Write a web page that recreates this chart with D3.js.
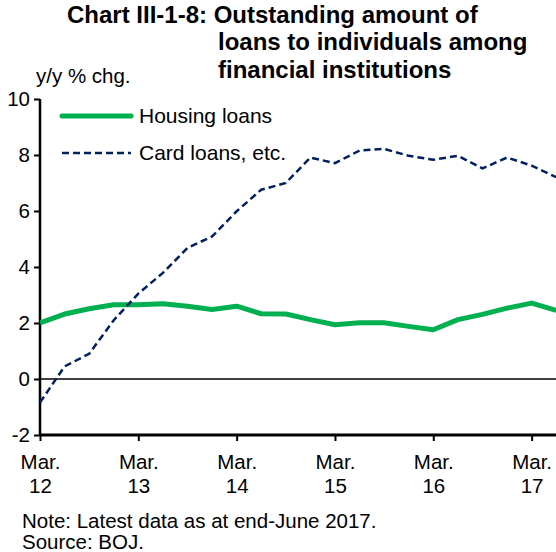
<!DOCTYPE html>
<html>
<head>
<meta charset="utf-8">
<script src="https://cdn.jsdelivr.net/npm/d3@7"></script>
<style>
  html, body { margin: 0; padding: 0; background: #fff; }
  svg { display: block; font-family: "Liberation Sans", Arial, sans-serif; }
</style>
</head>
<body>
<svg id="chart" width="556" height="552"></svg>
<script>
// ---- data (quarterly, Mar. 2012 – Jun. 2017), y/y % chg. ----
const quarters = ["2012Q1","2012Q2","2012Q3","2012Q4","2013Q1","2013Q2","2013Q3","2013Q4",
                  "2014Q1","2014Q2","2014Q3","2014Q4","2015Q1","2015Q2","2015Q3","2015Q4",
                  "2016Q1","2016Q2","2016Q3","2016Q4","2017Q1","2017Q2"];
const housingLoans = [2.00, 2.32, 2.51, 2.65, 2.65, 2.69, 2.60, 2.48, 2.60, 2.33, 2.32,
                      2.12, 1.94, 2.01, 2.01, 1.88, 1.76, 2.12, 2.31, 2.53, 2.71, 2.45];
const cardLoans = [-0.84, 0.45, 0.90, 2.10, 3.05, 3.79, 4.68, 5.09, 5.99, 6.76, 7.00,
                   7.91, 7.71, 8.16, 8.22, 7.97, 7.83, 7.97, 7.52, 7.91, 7.62, 7.21];
const xTickIndex = [0, 4, 8, 12, 16, 20];
const xTickLabels = [["Mar.","12"],["Mar.","13"],["Mar.","14"],["Mar.","15"],["Mar.","16"],["Mar.","17"]];
const yTicks = [-2, 0, 2, 4, 6, 8, 10];
const titleLines = ["Chart III-1-8: Outstanding amount of", "loans to individuals among", "financial institutions"];
const seriesNames = ["Housing loans", "Card loans, etc."];

(function () {
const svg = d3.select("#chart");
const pL = 40, pR = 556.2, pT = 99, pB = 435;
const fs = 20.5;

const x = d3.scaleLinear().domain([0, quarters.length - 1]).range([pL, pR]);
const y = d3.scaleLinear().domain([-2, 10]).range([pB, pT]);

// title
const title = svg.append("g").attr("font-weight", "bold").attr("font-size", 24).attr("fill", "#000");
title.append("text").attr("x", 67).attr("y", 22.5).text(titleLines[0]);
title.append("text").attr("x", 218).attr("y", 50).text(titleLines[1]);
title.append("text").attr("x", 218).attr("y", 77.5).text(titleLines[2]);

// unit label
svg.append("text").attr("x", 36).attr("y", 83).attr("font-size", fs).text("y/y % chg.");

// zero line
svg.append("line").attr("x1", pL).attr("x2", 556).attr("y1", y(0)).attr("y2", y(0))
  .attr("stroke", "#000").attr("stroke-width", 1.5);

// y axis
const yAxis = svg.append("g").attr("transform", `translate(${pL},0)`)
  .call(d3.axisLeft(y).tickValues(yTicks).tickSize(6).tickPadding(4).tickFormat(d => String(d)));
yAxis.select(".domain").attr("stroke-width", 2.5).attr("d", `M0,${pT}V${pB}`);
yAxis.selectAll(".tick line").attr("stroke-width", 2);
yAxis.selectAll(".tick text").attr("font-size", fs).attr("font-family", "Liberation Sans, Arial, sans-serif").attr("fill", "#000");

// x axis
const xAxis = svg.append("g").attr("transform", `translate(0,${pB})`)
  .call(d3.axisBottom(x).tickValues(xTickIndex).tickSize(6).tickFormat(""));
xAxis.select(".domain").attr("stroke-width", 3).attr("d", `M${pL},0H556`);
xAxis.selectAll(".tick line").attr("stroke-width", 2);
xAxis.selectAll(".tick").each(function(d, i) {
  const t = d3.select(this).append("text").attr("fill", "#000").attr("font-size", fs)
    .attr("text-anchor", "middle").attr("font-family", "Liberation Sans, Arial, sans-serif");
  t.append("tspan").attr("x", 0).attr("y", 34).text(xTickLabels[i][0]);
  t.append("tspan").attr("x", 0).attr("y", 58).text(xTickLabels[i][1]);
});

// clip to plot
svg.append("clipPath").attr("id", "plotclip").append("rect")
  .attr("x", pL).attr("y", 0).attr("width", 556 - pL).attr("height", pB);

const line = d3.line().x((d, i) => x(i)).y(d => y(d));
svg.append("path").datum(housingLoans).attr("clip-path", "url(#plotclip)")
  .attr("d", line).attr("fill", "none").attr("stroke", "#00B050").attr("stroke-width", 5)
  .attr("stroke-linejoin", "round");
svg.append("path").datum(cardLoans).attr("clip-path", "url(#plotclip)")
  .attr("d", line).attr("fill", "none").attr("stroke", "#002060").attr("stroke-width", 2.5)
  .attr("stroke-dasharray", "7,4");

// legend
const lg = svg.append("g");
lg.append("line").attr("x1", 62).attr("x2", 131).attr("y1", 116).attr("y2", 116)
  .attr("stroke", "#00B050").attr("stroke-width", 5).attr("stroke-linecap", "round");
lg.append("text").attr("x", 139).attr("y", 123).attr("font-size", 21).text(seriesNames[0]);
lg.append("line").attr("x1", 62).attr("x2", 131).attr("y1", 153).attr("y2", 153)
  .attr("stroke", "#002060").attr("stroke-width", 2.5).attr("stroke-dasharray", "7,4");
lg.append("text").attr("x", 139).attr("y", 160).attr("font-size", 21).text(seriesNames[1]);

// note
svg.append("text").attr("x", 22).attr("y", 528).attr("font-size", fs).text("Note: Latest data as at end-June 2017.");
svg.append("text").attr("x", 22).attr("y", 549).attr("font-size", fs).text("Source: BOJ.");
})();
</script>
</body>
</html>
